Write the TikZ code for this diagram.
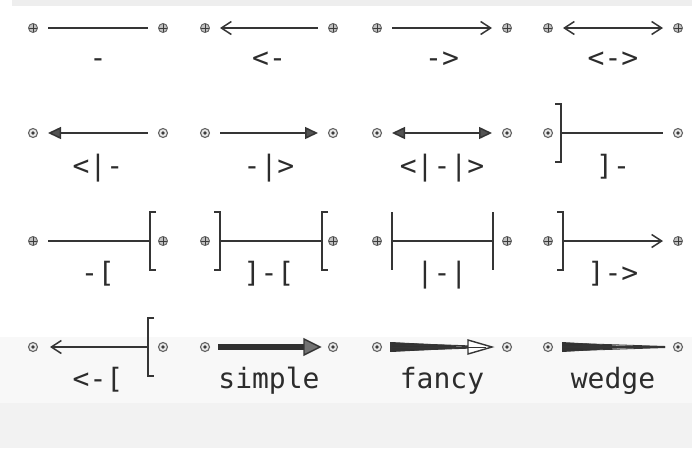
\documentclass[tikz,border=0pt]{standalone}
\usepackage{fontspec}
\setmonofont{DejaVu Sans Mono}
\usetikzlibrary{arrows.meta,calc}

\definecolor{inkc}{HTML}{353535}
\definecolor{textc}{HTML}{2C2C2C}
\definecolor{dotc}{HTML}{646464}
\definecolor{stripc}{HTML}{EEEEEE}
\definecolor{bandA}{HTML}{F8F8F8}
\definecolor{bandB}{HTML}{F2F2F2}

\tikzset{
  pdot/.style={circle, draw=dotc, fill=dotc!40, line width=0.9pt, minimum size=9pt, inner sep=0pt,
    path picture={\draw[dotc!60!black, line width=0.8pt]
      (path picture bounding box.north) -- (path picture bounding box.south)
      (path picture bounding box.west) -- (path picture bounding box.east);}},
  odot/.style={circle, draw=dotc, fill=dotc!15, line width=1.1pt, minimum size=9pt, inner sep=0pt,
    path picture={\fill[dotc!60!black] (path picture bounding box.center) circle (1.9pt);}},
  conn/.style={draw=inkc, line width=1.5pt},
  vee/.tip={Straight Barb[length=10pt,width=13pt,line width=1.5pt]},
  tri/.tip={Triangle[length=13pt,width=12pt,fill=inkc!85]},
  brk/.style={draw=inkc, line width=1.5pt},
  lbl/.style={text=textc, font=\ttfamily\fontsize{28}{30}\selectfont, anchor=base, inner sep=0pt},
}

\begin{document}
\begin{tikzpicture}[x=1pt,y=-1pt]
\useasboundingbox (0,0) rectangle (692,448);
% page backgrounds
\fill[stripc] (12,0) rectangle (692,6);
\fill[bandA] (0,337) rectangle (692,403);
\fill[bandB] (0,403) rectangle (692,448);

% end-point markers
\foreach \r/\y/\s in {1/28/pdot, 2/133/odot, 3/241/pdot, 4/347/odot}{
  \foreach \c/\xl/\xr in {1/33/163, 2/205/333, 3/377/507, 4/548/678}{
    \node[\s] (l\r\c) at (\xl,\y) {};
    \node[\s] (r\r\c) at (\xr,\y) {};
  }
}

% ---- row 1 ----
\coordinate (a11) at (48,28);  \coordinate (b11) at (148,28);
\coordinate (a12) at (220,28); \coordinate (b12) at (318,28);
\coordinate (a13) at (392,28); \coordinate (b13) at (492,28);
\coordinate (a14) at (563,28); \coordinate (b14) at (663,28);
\draw[conn] (a11) -- (b11);
\draw[conn, vee-] (a12) -- (b12);
\draw[conn, -vee] (a13) -- (b13);
\draw[conn, vee-vee] (a14) -- (b14);
\node[lbl] (t11) at (98,67) {-};
\node[lbl] (t12) at (269,67) {<-};
\node[lbl] (t13) at (442,67) {->};
\node[lbl] (t14) at (613,67) {<->};

% ---- row 2 ----
\coordinate (a21) at (48,133);  \coordinate (b21) at (148,133);
\coordinate (a22) at (220,133); \coordinate (b22) at (318,133);
\coordinate (a23) at (392,133); \coordinate (b23) at (492,133);
\coordinate (a24) at (561,133); \coordinate (b24) at (663,133);
\draw[conn, tri-] (a21) -- (b21);
\draw[conn, -tri] (a22) -- (b22);
\draw[conn, tri-tri] (a23) -- (b23);
\draw[conn] (a24) -- (b24);
\draw[brk] (a24) ++(-6,-29) -- ++(6,0) -- ++(0,58) -- ++(-6,0);
\node[lbl] (t21) at (98,175) {<|-};
\node[lbl] (t22) at (269,175) {-|>};
\node[lbl] (t23) at (442,175) {<|-|>};
\node[lbl] (t24) at (613,175) {]-};

% ---- row 3 ----
\coordinate (a31) at (48,241);  \coordinate (b31) at (150,241);
\coordinate (a32) at (220,241); \coordinate (b32) at (322,241);
\coordinate (a33) at (392,241); \coordinate (b33) at (493,241);
\coordinate (a34) at (563,241); \coordinate (b34) at (663,241);
\draw[conn] (a31) -- (b31);
\draw[brk] (b31) ++(6,-29) -- ++(-6,0) -- ++(0,58) -- ++(6,0);
\draw[conn] (a32) -- (b32);
\draw[brk] (a32) ++(-6,-29) -- ++(6,0) -- ++(0,58) -- ++(-6,0);
\draw[brk] (b32) ++(6,-29) -- ++(-6,0) -- ++(0,58) -- ++(6,0);
\draw[conn] (a33) -- (b33);
\draw[brk] (a33) ++(0,-29) -- ++(0,58);
\draw[brk] (b33) ++(0,-29) -- ++(0,58);
\draw[conn, -vee] (a34) -- (b34);
\draw[brk] (a34) ++(-6,-29) -- ++(6,0) -- ++(0,58) -- ++(-6,0);
\node[lbl] (t31) at (98,282) {-[};
\node[lbl] (t32) at (269,282) {]-[};
\node[lbl] (t33) at (442,282) {|-|};
\node[lbl] (t34) at (613,282) {]->};

% ---- row 4 ----
\coordinate (a41) at (50,347);  \coordinate (b41) at (148,347);
\draw[conn, vee-] (a41) -- (b41);
\draw[brk] (b41) ++(6,-29) -- ++(-6,0) -- ++(0,58) -- ++(6,0);

% simple: heavy shaft with an outlined head
\coordinate (a42) at (218,347); \coordinate (h42) at (304,347); \coordinate (b42) at (320,347);
\draw[inkc!90!black, line width=5.5pt] (a42) -- (h42);
\draw[inkc, line width=1.4pt, fill=inkc!70, line join=miter]
  ($(h42)+(0,-8)$) -- (b42) -- ($(h42)+(0,8)$) -- cycle;

% fancy: tapering hatched shaft with an open head
\coordinate (a43) at (391,347); \coordinate (h43) at (468,347); \coordinate (b43) at (492,347);
\fill[inkc!95!black] ($(a43)+(0,-5)$) -- ($(h43)+(-12,-1.5)$) -- ($(h43)+(-12,1.5)$) -- ($(a43)+(0,5)$) -- cycle;
\foreach \o in {-4,-2,0,2,4}{
  \draw[inkc, line width=0.9pt] ($(a43)+(0,\o)$) -- ($(h43)+(0,0.3*\o)$);
}
\draw[inkc, line width=1.4pt] ($(a43)+(0,-5)$) -- ++(0,10);
\draw[inkc, line width=1.4pt, fill=white, line join=miter]
  ($(h43)+(0,-7)$) -- (b43) -- ($(h43)+(0,7)$) -- cycle;
\draw[inkc, line width=0.9pt] ($(h43)+(-4,0)$) -- ($(b43)+(-6,0)$);

% wedge: tapering hatched shaft
\coordinate (a44) at (562,347); \coordinate (b44) at (665,347);
\fill[inkc!95!black] ($(a44)+(0,-5)$) -- ($(a44)+(50,-2)$) -- ($(a44)+(50,2)$) -- ($(a44)+(0,5)$) -- cycle;
\foreach \o in {-4,-2,0,2,4}{
  \draw[inkc, line width=0.8pt] ($(a44)+(0,\o)$) -- ($(b44)+(0,0.15*\o)$);
}
\draw[inkc, line width=1.4pt] (a44) -- (b44);

\node[lbl] (t41) at (98,388) {<-[};
\node[lbl] (t42) at (269,388) {simple};
\node[lbl] (t43) at (442,388) {fancy};
\node[lbl] (t44) at (613,388) {wedge};
\end{tikzpicture}
\end{document}
